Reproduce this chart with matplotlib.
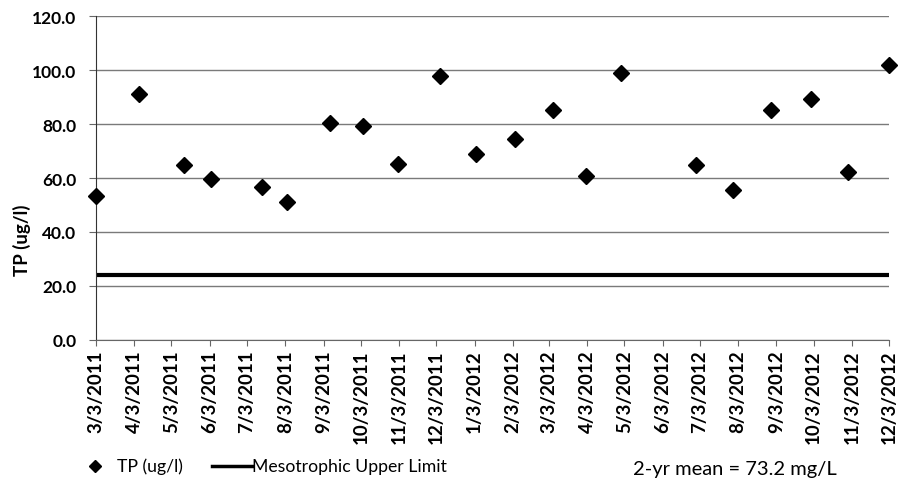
import numpy as np
import matplotlib
matplotlib.use("Agg")
import matplotlib.pyplot as plt
import matplotlib.dates as mdates
from matplotlib.lines import Line2D
import pandas as pd

plt.rcParams['font.family'] = ['Lato', 'DejaVu Sans']

# sampling dates and total phosphorus (ug/l)
sample_dates = pd.to_datetime([
    "2011-03-03", "2011-04-07", "2011-05-13", "2011-06-04", "2011-07-15",
    "2011-08-04", "2011-09-08", "2011-10-05", "2011-11-02", "2011-12-06",
    "2012-01-04", "2012-02-05", "2012-03-06", "2012-04-02", "2012-04-30",
    "2012-06-30", "2012-07-30", "2012-08-30", "2012-10-01", "2012-10-31",
    "2012-12-03",
])
tp = np.array([53.5, 91.0, 64.8, 59.6, 56.8, 51.0, 80.4, 79.3, 65.2, 97.6,
               68.8, 74.5, 85.2, 60.8, 98.8, 64.8, 55.6, 85.2, 89.1, 62.4,
               101.8])
meso_limit = 24.0
mean_text = "2-yr mean = 73.2 mg/L"

fig = plt.figure(figsize=(9.04, 4.81), dpi=100)
ax = fig.add_axes([96/904, 1-341/481, (889-96)/904, (341-17)/481])

ax.set_xlim(sample_dates[0], sample_dates[-1])
ax.set_ylim(0, 120)
ax.set_yticks(np.arange(0, 121, 20))
ax.yaxis.set_major_formatter(plt.FuncFormatter(lambda v, p: f"{v:.1f}"))
ax.grid(axis='y', color='#7a7a7a', lw=1.0)
ax.set_axisbelow(True)

ax.xaxis.set_major_locator(mdates.MonthLocator(bymonthday=3))
ax.xaxis.set_major_formatter(plt.FuncFormatter(
    lambda v, p: f"{mdates.num2date(v).month}/{mdates.num2date(v).day}/{mdates.num2date(v).year}"))

ax.axhline(meso_limit, color='black', lw=3, zorder=2)
ax.plot(sample_dates, tp, 'D', color='black', ms=8, zorder=3, clip_on=False)

for s in ['top', 'right']:
    ax.spines[s].set_visible(False)
ax.spines['left'].set_color('#333333')
ax.spines['bottom'].set_color('#666666')
ax.tick_params(axis='x', direction='out', length=4, color='#666666',
               labelrotation=90, labelsize=13.5, pad=3)
ax.tick_params(axis='y', direction='out', length=5, color='#666666',
               labelsize=12.5, pad=9)
for lab in ax.get_xticklabels() + ax.get_yticklabels():
    lab.set_fontweight('bold')

ax.set_ylabel('TP (ug/l)', fontsize=13.5, fontweight='bold')
ax.yaxis.set_label_coords(31/904, 0.5, transform=fig.transFigure)

# legend row at the bottom
yl = 1 - 467/481
fig.add_artist(Line2D([95/904], [yl], transform=fig.transFigure, marker='D',
                      ms=6.5, color='black', ls='none'))
fig.text(117/904, yl, 'TP (ug/l)', fontsize=12.7, va='center')
fig.add_artist(Line2D([212/904, 252/904], [yl, yl], transform=fig.transFigure,
                      color='black', lw=2.5))
fig.text(252/904, yl, 'Mesotrophic Upper Limit', fontsize=12.7, va='center')
fig.text(633/904, yl - 3/481, mean_text, fontsize=14.5, va='center')

fig.savefig('out.png', dpi=100)
